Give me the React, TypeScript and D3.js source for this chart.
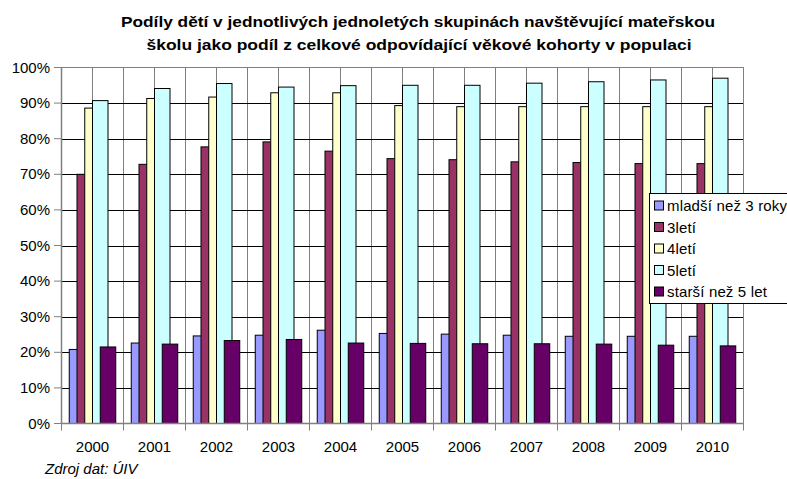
import React from "react";
import * as d3 from "d3";

const years = ["2000", "2001", "2002", "2003", "2004", "2005", "2006", "2007", "2008", "2009", "2010"];
const seriesNames = ["mladší než 3 roky", "3letí", "4letí", "5letí", "starší než 5 let"];
const seriesColors = ["#9999FF", "#993366", "#FFFFCC", "#CCFFFF", "#660066"];
const under3 = [20.8, 22.6, 24.6, 24.8, 26.2, 25.3, 25.1, 24.8, 24.5, 24.5, 24.5];
const age3 = [70.0, 72.8, 77.7, 79.1, 76.5, 74.4, 74.1, 73.5, 73.3, 73.0, 73.0];
const age4 = [88.6, 91.3, 91.7, 92.9, 92.9, 89.3, 89.0, 89.0, 89.0, 89.0, 89.0];
const age5 = [90.7, 94.1, 95.5, 94.5, 94.9, 95.0, 95.0, 95.6, 96.0, 96.5, 97.0];
const over5 = [21.5, 22.3, 23.3, 23.6, 22.6, 22.5, 22.4, 22.4, 22.3, 22.0, 21.8];
const seriesValues = [under3, age3, age4, age5, over5];
const yTicks = [0, 10, 20, 30, 40, 50, 60, 70, 80, 90, 100];
const titleLines = [
  "Podíly dětí v jednotlivých jednoletých skupinách navštěvující mateřskou",
  "školu jako podíl z celkové odpovídající věkové kohorty v populaci",
];
const sourceNote = "Zdroj dat: ÚIV";

const W = 787;
const H = 479;
const left = 61.5;
const right = 743.5;
const top = 67.5;
const bottom = 423.5;
const font = "'Liberation Sans', Arial, sans-serif";

export default function App() {
  const x = d3.scaleBand<string>().domain(years).range([left, right]).paddingInner(0).paddingOuter(0);
  const y = d3.scaleLinear().domain([0, 100]).range([bottom, top]);
  const step = x.step();
  const bw = step / 4;

  const vLines: number[] = [];
  for (let i = 0; i <= years.length * 2; i++) vLines.push(left + (i * step) / 2);

  return (
    <svg width={W} height={H} style={{ position: "absolute", left: 0, top: 0, background: "#fff" }}>
      <rect x={0} y={0} width={W} height={H} fill="#fff" />
      {vLines.map((vx, i) => (
        <line key={"v" + i} x1={vx} x2={vx} y1={top} y2={bottom} stroke="#808080" strokeWidth={1} />
      ))}
      {yTicks.slice(1, -1).map((t) => (
        <line key={"h" + t} x1={left} x2={right} y1={Math.round(y(t)) + 0.5} y2={Math.round(y(t)) + 0.5} stroke="#000" strokeWidth={1} />
      ))}
      <line x1={left} x2={right} y1={top} y2={top} stroke="#808080" />
      <line x1={right} x2={right} y1={top} y2={bottom} stroke="#808080" />
      {years.map((yr, ci) => {
        const x0 = (x(yr) as number) + bw / 2;
        return (
          <g key={yr}>
            {seriesValues.map((vals, si) => (
              <rect
                key={si}
                x={x0 + (si * bw) / 2}
                y={y(vals[ci])}
                width={bw}
                height={bottom - y(vals[ci])}
                fill={seriesColors[si]}
                stroke="#000"
                strokeWidth={1}
              />
            ))}
          </g>
        );
      })}
      <line x1={left} x2={left} y1={top} y2={bottom} stroke="#808080" strokeWidth={1.5} />
      <line x1={left} x2={right} y1={bottom} y2={bottom} stroke="#808080" strokeWidth={1.5} />
      {yTicks.map((t) => (
        <g key={"yt" + t}>
          <line x1={54} x2={left} y1={y(t)} y2={y(t)} stroke="#808080" strokeWidth={1} />
          <text x={50} y={y(t) + 5} textAnchor="end" fontFamily={font} fontSize={15} fill="#000">
            {t + "%"}
          </text>
        </g>
      ))}
      {years.map((yr, i) => (
        <line key={"xt" + i} x1={x(yr) as number} x2={x(yr) as number} y1={bottom} y2={bottom + 7} stroke="#808080" strokeWidth={1} />
      ))}
      <line x1={right} x2={right} y1={bottom} y2={bottom + 7} stroke="#808080" strokeWidth={1} />
      {years.map((yr) => (
        <text key={"xl" + yr} x={(x(yr) as number) + step / 2} y={452} textAnchor="middle" fontFamily={font} fontSize={15} fill="#000">
          {yr}
        </text>
      ))}
      <text x={418} y={27} textAnchor="middle" fontFamily={font} fontSize={15.5} fontWeight="bold" textLength={594} lengthAdjust="spacingAndGlyphs">
        {titleLines[0]}
      </text>
      <text x={419} y={50} textAnchor="middle" fontFamily={font} fontSize={15.5} fontWeight="bold" textLength={545} lengthAdjust="spacingAndGlyphs">
        {titleLines[1]}
      </text>
      <rect x={649.5} y={193.5} width={150} height={110} fill="#fff" stroke="#000" strokeWidth={1} />
      {seriesNames.map((n, i) => {
        const ly = 205.5 + i * 21.5;
        return (
          <g key={n}>
            <rect x={654.5} y={ly - 4.5} width={9} height={9} fill={seriesColors[i]} stroke="#000" strokeWidth={1} />
            <text x={667} y={ly + 5.5} fontFamily={font} fontSize={15} letterSpacing={0.15} fill="#000">
              {n}
            </text>
          </g>
        );
      })}
      <text x={45} y={474} fontFamily={font} fontSize={15} fontStyle="italic" fill="#000">
        {sourceNote}
      </text>
    </svg>
  );
}
